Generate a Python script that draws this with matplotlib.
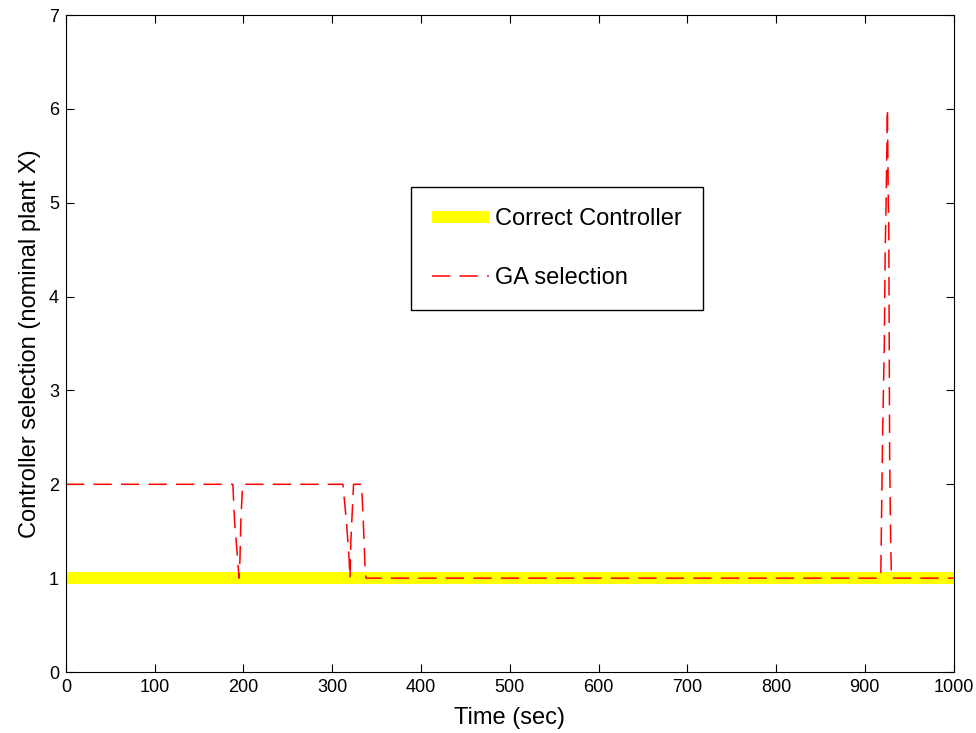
import matplotlib
matplotlib.use("Agg")
import matplotlib.pyplot as plt

plt.rcParams["font.family"] = ["Liberation Sans", "DejaVu Sans"]

# correct controller: constant plant 1 over the whole run
correct_t = [0, 1000]
correct_sel = [1, 1]

# GA selection
ga_t = [0, 188, 190, 193, 195, 196, 197, 199,
        312, 316, 319, 320, 321, 323, 324, 333, 335, 337, 338,
        918, 920, 922, 923, 924, 925.5, 926.5, 927, 928, 929, 930, 1000]
ga_sel = [2, 2, 1.6, 1.25, 1.0, 1.2, 1.6, 2,
          2, 1.6, 1.2, 1.0, 1.4, 1.8, 2, 2, 1.6, 1.1, 1,
          1, 2.5, 3.5, 4.5, 5.0, 6, 5.0, 4.8, 2.3, 1.5, 1, 1]

fig = plt.figure(figsize=(9.76, 7.33), dpi=100)
ax = fig.add_axes([0.0676, 0.0832, 0.9094, 0.8963])

ax.plot(correct_t, correct_sel, color="#ffff00", lw=8.6,
        solid_capstyle="butt", label="Correct Controller")
ax.plot(ga_t, ga_sel, color="#ff0000", lw=1.1, linestyle=(0, (12, 6)),
        label="GA selection")

ax.set_xlim(0, 1000)
ax.set_ylim(0, 7)
ax.set_xticks(range(0, 1001, 100))
ax.set_yticks(range(0, 8))
ax.tick_params(direction="in", top=True, right=True, labelsize=13,
               length=6, pad=5)
ax.set_xlabel("Time (sec)", fontsize=17, labelpad=8)
ax.set_ylabel("Controller selection (nominal plant X)", fontsize=17,
              labelpad=6)

leg = ax.legend(loc="upper left", bbox_to_anchor=(0.3885, 0.738),
                borderaxespad=0, fontsize=17, fancybox=False, framealpha=1,
                edgecolor="black", handlelength=2.4, labelspacing=1.55,
                borderpad=0.9, handletextpad=0.25)
leg.get_frame().set_linewidth(1.0)

fig.savefig("out.png", dpi=100)
